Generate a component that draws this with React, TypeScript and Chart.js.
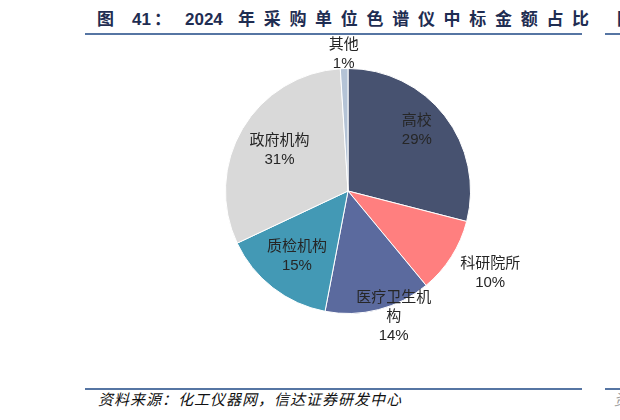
import { useEffect, useRef } from 'react';
import { Chart, registerables, Plugin } from 'chart.js';

Chart.register(...registerables);

// data
const categories = ['高校', '科研院所', '医疗卫生机构', '质检机构', '政府机构', '其他'];
const shares = [29, 10, 14, 15, 31, 1];
const sliceColors = ['#475270', '#FF7F7F', '#5B6A9E', '#4399B5', '#D9D9D9', '#B4C3D6'];

// label placement: distance (x radius) and angle nudge (degrees)
const labelDist = [0.75, 1.34, 1.09, 0.68, 0.65, 1.12];
const labelNudge = [-3.7, -2.4, -5.6, 0, 0, 0];

const LABEL_FONT = '15px "Liberation Sans", "Noto Sans CJK SC", sans-serif';

const wrap = (s: string, n: number) => {
  const out: string[] = [];
  for (let i = 0; i < s.length; i += n) out.push(s.slice(i, i + n));
  return out;
};

const sliceLabels: Plugin<'pie'> = {
  id: 'sliceLabels',
  afterDatasetsDraw(chart) {
    const { ctx } = chart;
    const meta = chart.getDatasetMeta(0);
    ctx.save();
    ctx.font = LABEL_FONT;
    ctx.fillStyle = '#262626';
    ctx.textAlign = 'center';
    ctx.textBaseline = 'middle';
    meta.data.forEach((el: any, i) => {
      const { x, y, startAngle, endAngle, outerRadius } = el.getProps(
        ['x', 'y', 'startAngle', 'endAngle', 'outerRadius'],
        true
      );
      const mid = (startAngle + endAngle) / 2 + (labelNudge[i] * Math.PI) / 180;
      const r = outerRadius * labelDist[i];
      const cx = x + Math.cos(mid) * r;
      const cy = y + Math.sin(mid) * r;
      const lines = [...wrap(categories[i], 5), `${shares[i]}%`];
      const lh = 19;
      const top = cy - ((lines.length - 1) * lh) / 2;
      lines.forEach((t, k) => ctx.fillText(t, cx, top + k * lh));
    });
    ctx.restore();
  },
};

const PieChart = () => {
  const chartRef = useRef<HTMLCanvasElement | null>(null);
  const chartInstance = useRef<Chart<'pie'> | null>(null);

  useEffect(() => {
    if (!chartRef.current) return;
    const ctx = chartRef.current.getContext('2d');
    if (!ctx) return;
    if (chartInstance.current) chartInstance.current.destroy();

    chartInstance.current = new Chart(ctx, {
      type: 'pie',
      data: {
        labels: categories,
        datasets: [
          {
            data: shares,
            backgroundColor: sliceColors,
            borderColor: '#ffffff',
            borderWidth: 1,
          },
        ],
      },
      options: {
        animation: false,
        responsive: false,
        maintainAspectRatio: false,
        radius: 122.5,
        layout: { padding: 0 },
        plugins: {
          legend: { display: false },
          tooltip: { enabled: false },
        },
      },
      plugins: [sliceLabels],
    });

    return () => {
      if (chartInstance.current) {
        chartInstance.current.destroy();
        chartInstance.current = null;
      }
    };
  }, []);

  return (
    <canvas
      ref={chartRef}
      width={400}
      height={320}
      style={{ position: 'absolute', left: 148, top: 31, width: 400, height: 320 }}
    />
  );
};

const titleStyle: React.CSSProperties = {
  position: 'absolute',
  top: 9,
  fontFamily: '"Liberation Sans", "Noto Sans CJK SC", sans-serif',
  fontWeight: 'bold',
  fontSize: 17,
  lineHeight: '22px',
  color: '#1F2D52',
  whiteSpace: 'nowrap',
};

const sourceStyle: React.CSSProperties = {
  position: 'absolute',
  top: 389,
  fontFamily: '"Noto Sans CJK SC", sans-serif',
  fontStyle: 'italic',
  fontSize: 15,
  lineHeight: '20px',
  color: '#111',
  whiteSpace: 'nowrap',
};

const rule = (left: number, top: number, width: number): React.CSSProperties => ({
  position: 'absolute',
  left,
  top,
  width,
  height: 2,
  background: '#5675A3',
});

const App = () => (
  <div
    style={{
      position: 'fixed',
      left: 0,
      top: 0,
      width: 620,
      height: 420,
      background: '#fff',
      overflow: 'hidden',
    }}
  >
    <span style={{ ...titleStyle, left: 97 }}>图</span>
    <span style={{ ...titleStyle, left: 132 }}>41</span>
    <span style={{ ...titleStyle, left: 154 }}>：</span>
    <span style={{ ...titleStyle, left: 185 }}>2024</span>
    <span style={{ ...titleStyle, left: 238, letterSpacing: 8.7 }}>年采购单位色谱仪中标金额占比</span>
    <span style={{ ...titleStyle, left: 617 }}>图</span>
    <div style={rule(85, 33, 497)} />
    <div style={rule(605, 33, 15)} />

    <PieChart />

    <div style={rule(85, 388, 497)} />
    <div style={rule(605, 388, 15)} />
    <span style={{ ...sourceStyle, left: 98, letterSpacing: 1 }}>
      资料来源：化工仪器网，信达证券研发中心
    </span>
    <span style={{ ...sourceStyle, left: 614, color: '#999' }}>资</span>
  </div>
);

export default App;
